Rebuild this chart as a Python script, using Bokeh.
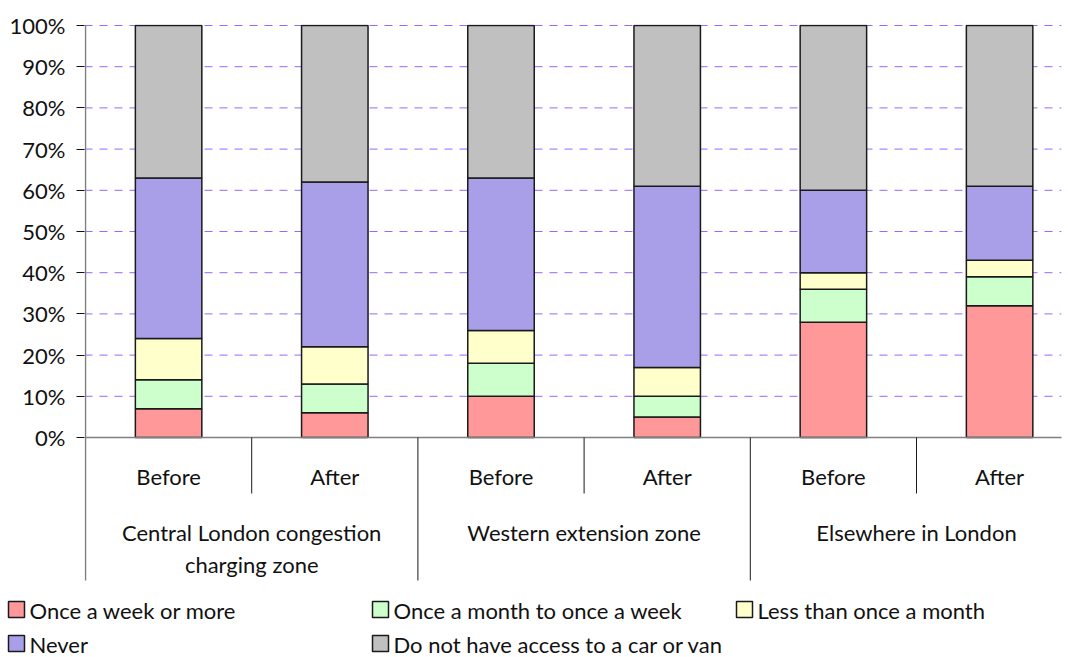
from bokeh.plotting import figure
from bokeh.layouts import column
from bokeh.models import ColumnDataSource, Range1d, FixedTicker, NumeralTickFormatter
from bokeh.core.properties import value
from bokeh.embed import file_html
from bokeh.resources import INLINE

# ---------------- data ----------------
periods = ["Before", "After", "Before", "After", "Before", "After"]
zones = ["Central London congestion\ncharging zone", "Western extension zone", "Elsewhere in London"]
series = ["Once a week or more", "Once a month to once a week", "Less than once a month",
          "Never", "Do not have access to a car or van"]
weekly = [0.07, 0.06, 0.10, 0.05, 0.28, 0.32]
monthly = [0.07, 0.07, 0.08, 0.05, 0.08, 0.07]
rarely = [0.10, 0.09, 0.08, 0.07, 0.04, 0.04]
never = [0.39, 0.40, 0.37, 0.44, 0.20, 0.18]
no_access = [0.37, 0.38, 0.37, 0.39, 0.40, 0.39]
y_ticks = [0.0, 0.1, 0.2, 0.3, 0.4, 0.5, 0.6, 0.7, 0.8, 0.9, 1.0]

colors = ["#FF9999", "#CCFFCC", "#FFFFCC", "#A99FE9", "#C0C0C0"]
FONT = "Lato"
FS = "22px"
TXT = "#111111"
EDGE = "#1a1a1a"
GRID = "#9966FF"

# ---------------- layout constants ----------------
W = 1068
H_MAIN, H_LEG = 590, 67
B_LEFT, B_TOP, B_RIGHT = 84, 24, 7
PX_PER_X = 166.2
PX_PER_Y = 412.0
frame_w = W - B_LEFT - B_RIGHT
frame_h = H_MAIN - B_TOP
x_min = -1.0 / PX_PER_X
x_max = x_min + frame_w / PX_PER_X
y_max = 1.0 + 1.0 / PX_PER_Y
y_min = y_max - frame_h / PX_PER_Y
cat_bottom = -(580 - 437) / PX_PER_Y

xs = [i + 0.5 for i in range(len(periods))]
src = ColumnDataSource(dict(x=xs, s0=weekly, s1=monthly, s2=rarely, s3=never, s4=no_access))

p = figure(width=W, height=H_MAIN, output_backend="svg", toolbar_location=None,
           x_range=Range1d(x_min, x_max), y_range=Range1d(y_min, y_max),
           min_border_left=B_LEFT, min_border_top=B_TOP, min_border_bottom=0,
           min_border_right=B_RIGHT)
p.frame_align = False
p.outline_line_color = None
p.xaxis.visible = False
p.grid.visible = False

# y axis
yax = p.yaxis[0]
yax.ticker = FixedTicker(ticks=y_ticks)
yax.formatter = NumeralTickFormatter(format="0%")
yax.axis_line_color = None
yax.major_tick_out = 8
yax.major_tick_in = 0
yax.major_tick_line_color = TXT
yax.minor_tick_line_color = None
yax.major_label_standoff = 11
yax.major_label_text_font = FONT
yax.major_label_text_font_size = FS
yax.major_label_text_color = TXT

# dashed horizontal gridlines at the value ticks
gl = y_ticks[1:]
p.segment(x0=[x_min] * len(gl), x1=[x_max] * len(gl), y0=gl, y1=gl,
          line_color=GRID, line_width=1, line_dash="8 7")

p.vbar_stack(["s0", "s1", "s2", "s3", "s4"], x="x", width=0.4, source=src,
             fill_color=colors, line_color=EDGE, line_width=1.5)

# axis lines (value axis and zero line)
p.segment(x0=[0], x1=[0], y0=[1.0], y1=[cat_bottom], line_color="#808080", line_width=1.5)
p.segment(x0=[0], x1=[len(periods)], y0=[0], y1=[0], line_color="#808080", line_width=1.5)

# category dividers
short_bottom = -(493 - 437) / PX_PER_Y
inner = [2 * g + 1 for g in range(len(zones))]
outer = [2 * g for g in range(1, len(zones))]
p.segment(x0=inner, x1=inner, y0=[0] * len(inner), y1=[short_bottom] * len(inner),
          line_color=EDGE, line_width=1)
p.segment(x0=outer, x1=outer, y0=[0] * len(outer), y1=[cat_bottom] * len(outer),
          line_color=EDGE, line_width=1)

# period labels
period_y = -(476 - 437) / PX_PER_Y
p.text(x=xs, y=[period_y] * len(xs), text=periods, text_align="center",
       text_baseline="middle", text_font=value(FONT), text_font_size=FS, text_color=TXT)

# zone labels
zx, zy, zt = [], [], []
first_line_y = -(532 - 437) / PX_PER_Y
line_step = 32 / PX_PER_Y
for g, z in enumerate(zones):
    for k, line in enumerate(z.split("\n")):
        zx.append(2 * g + 1)
        zy.append(first_line_y - k * line_step)
        zt.append(line)
p.text(x=zx, y=zy, text=zt, text_align="center", text_baseline="middle",
       text_font=value(FONT), text_font_size=FS, text_color=TXT)

# ---------------- legend strip (pixel coordinates, y downward) ----------------
q = figure(width=W, height=H_LEG, output_backend="svg", toolbar_location=None,
           x_range=Range1d(0, W), y_range=Range1d(H_LEG, 0),
           min_border_left=0, min_border_right=0, min_border_top=0, min_border_bottom=0)
q.frame_align = False
q.axis.visible = False
q.grid.visible = False
q.outline_line_color = None

N_COLS, COL_PITCH, ROW_PITCH = 3, 364, 34
SW_X0, SW_Y0, SW = 16, 19, 16
TXT_DX, TXT_DY = 13, 1
sw_x = [SW_X0 + (i % N_COLS) * COL_PITCH for i in range(len(series))]
sw_y = [SW_Y0 + (i // N_COLS) * ROW_PITCH for i in range(len(series))]
q.scatter(x=sw_x, y=sw_y, marker="square", size=SW, fill_color=colors,
          line_color=EDGE, line_width=1.5)
q.text(x=[v + TXT_DX for v in sw_x], y=[v + TXT_DY for v in sw_y], text=series,
       text_align="left", text_baseline="middle", text_font=value(FONT),
       text_font_size=FS, text_color=TXT)

open("out.html", "w").write(file_html(column(p, q, spacing=0), INLINE))
